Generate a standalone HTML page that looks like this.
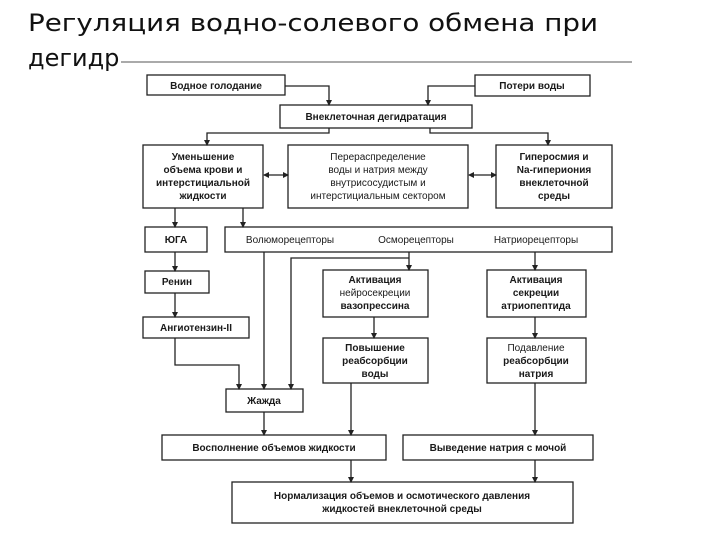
<!DOCTYPE html>
<html><head><meta charset="utf-8"><style>
html,body{margin:0;padding:0;background:#fff;width:720px;height:540px;overflow:hidden}
svg{display:block}
.t{font-family:"DejaVu Sans","Liberation Sans",sans-serif;font-size:24px;fill:#111}
.b{font-family:"Liberation Sans","DejaVu Sans",sans-serif;font-size:10px;font-weight:bold;fill:#1a1a1a;text-anchor:middle}
rect{fill:#fff;stroke:#222;stroke-width:1.3}
.l{stroke:#222;stroke-width:1.3;fill:none}
</style></head><body>
<svg width="720" height="540" xmlns="http://www.w3.org/2000/svg">
<defs><marker id="a" markerWidth="6" markerHeight="6" refX="5" refY="3" orient="auto" markerUnits="userSpaceOnUse"><path d="M0,0 L6,3 L0,6 z" fill="#222"/></marker>
<marker id="s" markerWidth="6" markerHeight="6" refX="1" refY="3" orient="auto" markerUnits="userSpaceOnUse"><path d="M6,0 L0,3 L6,6 z" fill="#222"/></marker></defs>
<text class="t" x="28" y="31" textLength="570" lengthAdjust="spacingAndGlyphs">Регуляция водно-солевого обмена при</text>
<text class="t" x="28" y="66">дегидратации</text>
<rect x="119" y="50" width="520" height="487" style="stroke:none"/>
<line class="l" x1="121" y1="62" x2="632" y2="62" style="stroke:#555;stroke-width:1"/>
<g>
<rect x="147" y="75" width="138" height="20"/><text class="b" x="216" y="89">Водное голодание</text>
<rect x="475" y="75" width="115" height="21"/><text class="b" x="532" y="89">Потери воды</text>
<rect x="280" y="105" width="192" height="23"/><text class="b" x="376" y="120">Внеклеточная дегидратация</text>
<rect x="143" y="145" width="120" height="63"/>
<text class="b" x="203" y="160">Уменьшение</text><text class="b" x="203" y="173">объема крови и</text><text class="b" x="203" y="186">интерстициальной</text><text class="b" x="203" y="199">жидкости</text>
<rect x="288" y="145" width="180" height="63"/>
<text class="b" x="378" y="160" style="font-weight:normal">Перераспределение</text><text class="b" x="378" y="173" style="font-weight:normal">воды и натрия между</text><text class="b" x="378" y="186" style="font-weight:normal">внутрисосудистым и</text><text class="b" x="378" y="199" style="font-weight:normal">интерстициальным сектором</text>
<rect x="496" y="145" width="116" height="63"/>
<text class="b" x="554" y="160">Гиперосмия и</text><text class="b" x="554" y="173">Na-гипериония</text><text class="b" x="554" y="186">внеклеточной</text><text class="b" x="554" y="199">среды</text>
<rect x="145" y="227" width="62" height="25"/><text class="b" x="176" y="243">ЮГА</text>
<rect x="225" y="227" width="387" height="25"/>
<text class="b" x="290" y="243" style="font-weight:normal">Волюморецепторы</text><text class="b" x="416" y="243" style="font-weight:normal">Осморецепторы</text><text class="b" x="536" y="243" style="font-weight:normal">Натриорецепторы</text>
<rect x="145" y="271" width="64" height="22"/><text class="b" x="177" y="285">Ренин</text>
<rect x="143" y="317" width="106" height="21"/><text class="b" x="196" y="331">Ангиотензин-II</text>
<rect x="323" y="270" width="105" height="47"/>
<text class="b" x="375" y="283">Активация</text><text class="b" x="375" y="296" style="font-weight:normal">нейросекреции</text><text class="b" x="375" y="309">вазопрессина</text>
<rect x="487" y="270" width="99" height="47"/>
<text class="b" x="536" y="283">Активация</text><text class="b" x="536" y="296">секреции</text><text class="b" x="536" y="309">атриопептида</text>
<rect x="323" y="338" width="105" height="45"/>
<text class="b" x="375" y="351">Повышение</text><text class="b" x="375" y="364">реабсорбции</text><text class="b" x="375" y="377">воды</text>
<rect x="487" y="338" width="99" height="45"/>
<text class="b" x="536" y="351" style="font-weight:normal">Подавление</text><text class="b" x="536" y="364">реабсорбции</text><text class="b" x="536" y="377">натрия</text>
<rect x="226" y="389" width="77" height="23"/><text class="b" x="264" y="404">Жажда</text>
<rect x="162" y="435" width="224" height="25"/><text class="b" x="274" y="451">Восполнение объемов жидкости</text>
<rect x="403" y="435" width="190" height="25"/><text class="b" x="498" y="451">Выведение натрия с мочой</text>
<rect x="232" y="482" width="341" height="41"/>
<text class="b" x="402" y="499">Нормализация объемов и осмотического давления</text><text class="b" x="402" y="512">жидкостей внеклеточной среды</text>
</g>
<g class="l">
<path d="M285,86 H329 V105" marker-end="url(#a)"/>
<path d="M475,86 H428 V105" marker-end="url(#a)"/>
<path d="M329,128 V133 H207 V145" marker-end="url(#a)"/>
<path d="M430,128 V133 H548 V145" marker-end="url(#a)"/>
<path d="M264,175 H288" marker-start="url(#s)" marker-end="url(#a)"/>
<path d="M469,175 H496" marker-start="url(#s)" marker-end="url(#a)"/>
<path d="M175,208 V227" marker-end="url(#a)"/>
<path d="M243,208 V227" marker-end="url(#a)"/>
<path d="M175,252 V271" marker-end="url(#a)"/>
<path d="M175,293 V317" marker-end="url(#a)"/>
<path d="M175,338 V365 H239 V389" marker-end="url(#a)"/>
<path d="M264,252 V389" marker-end="url(#a)"/>
<path d="M409,252 V270" marker-end="url(#a)"/>
<path d="M409,258 H291 V389" marker-end="url(#a)"/>
<path d="M535,252 V270" marker-end="url(#a)"/>
<path d="M374,317 V338" marker-end="url(#a)"/>
<path d="M535,317 V338" marker-end="url(#a)"/>
<path d="M351,383 V435" marker-end="url(#a)"/>
<path d="M264,412 V435" marker-end="url(#a)"/>
<path d="M535,383 V435" marker-end="url(#a)"/>
<path d="M351,460 V482" marker-end="url(#a)"/>
<path d="M535,460 V482" marker-end="url(#a)"/>
</g>
</svg>
</body></html>
